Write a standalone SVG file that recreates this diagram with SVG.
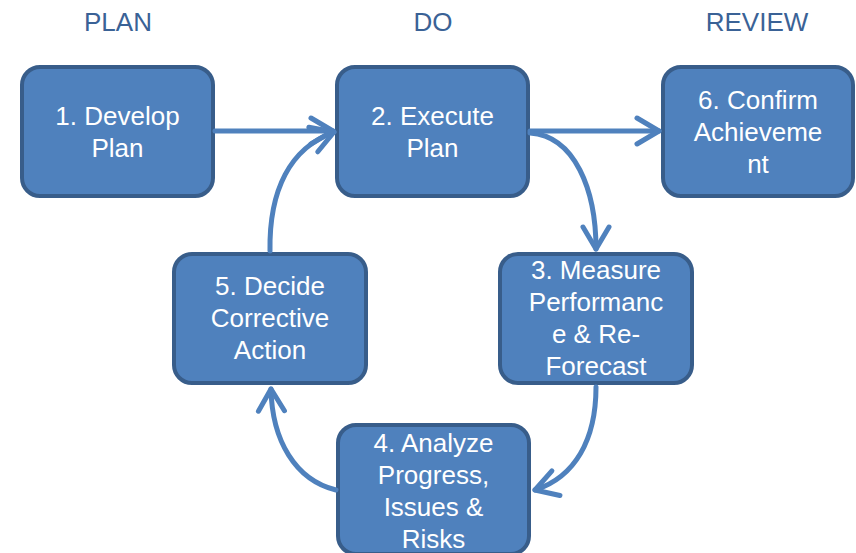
<svg xmlns="http://www.w3.org/2000/svg" width="856" height="553" viewBox="0 0 856 553">
<defs>
<style>
.box{fill:#4F81BD;stroke:#385D8A;stroke-width:4}
.lbl{font-family:"Liberation Sans",Arial,sans-serif;font-size:26px;fill:#FFFFFF;text-anchor:middle}
.hdr{font-family:"Liberation Sans",Arial,sans-serif;font-size:26px;fill:#3A6296;text-anchor:middle}
.conn{fill:none;stroke:#4F81BD;stroke-width:5;stroke-linecap:round}
</style>
<marker id="chev" markerUnits="userSpaceOnUse" viewBox="-28 -18 32 36" markerWidth="32" markerHeight="36" refX="0" refY="0" orient="auto">
<path d="M-22,-13 L0,0 L-22,13" fill="none" stroke="#4F81BD" stroke-width="5" stroke-linecap="round" stroke-linejoin="round"/>
</marker>
</defs>
<g id="headers">
<text class="hdr" x="118" y="31">PLAN</text>
<text class="hdr" x="433" y="31">DO</text>
<text class="hdr" x="757" y="31">REVIEW</text>
</g>
<g id="node1">
<rect class="box" x="22" y="67" width="191" height="129" rx="18"/>
<text class="lbl" x="117.5" y="125">1. Develop</text>
<text class="lbl" x="117.5" y="157">Plan</text>
</g>
<g id="node2">
<rect class="box" x="337" y="67" width="191" height="129" rx="18"/>
<text class="lbl" x="432.5" y="125">2. Execute</text>
<text class="lbl" x="432.5" y="157">Plan</text>
</g>
<g id="node6">
<rect class="box" x="663" y="67" width="190" height="129" rx="18"/>
<text class="lbl" x="758" y="109">6. Confirm</text>
<text class="lbl" x="758" y="141">Achieveme</text>
<text class="lbl" x="758" y="173">nt</text>
</g>
<g id="node5">
<rect class="box" x="174" y="254" width="192" height="129" rx="18"/>
<text class="lbl" x="270" y="295">5. Decide</text>
<text class="lbl" x="270" y="327">Corrective</text>
<text class="lbl" x="270" y="359">Action</text>
</g>
<g id="node3">
<rect class="box" x="500" y="254" width="192" height="129" rx="18"/>
<text class="lbl" x="596" y="279">3. Measure</text>
<text class="lbl" x="596" y="311">Performanc</text>
<text class="lbl" x="596" y="343">e &amp; Re-</text>
<text class="lbl" x="596" y="375">Forecast</text>
</g>
<g id="node4">
<rect class="box" x="338" y="425" width="191" height="129" rx="18"/>
<text class="lbl" x="433.5" y="452">4. Analyze</text>
<text class="lbl" x="433.5" y="484">Progress,</text>
<text class="lbl" x="433.5" y="516">Issues &amp;</text>
<text class="lbl" x="433.5" y="548">Risks</text>
</g>
<g id="connectors">
<path class="conn" d="M215,131 L333,131" marker-end="url(#chev)"/>
<path class="conn" d="M530,131 L659,131" marker-end="url(#chev)"/>
<path class="conn" d="M530,133 C575,136 596,190 596,249" marker-end="url(#chev)"/>
<path class="conn" d="M596,387 C596,440 575,477 535,490" marker-end="url(#chev)"/>
<path class="conn" d="M336,490 C295,480 272,440 271,389" marker-end="url(#chev)"/>
<path class="conn" d="M270,251 C269,190 290,148 334,132" marker-end="url(#chev)"/>
</g>
</svg>
